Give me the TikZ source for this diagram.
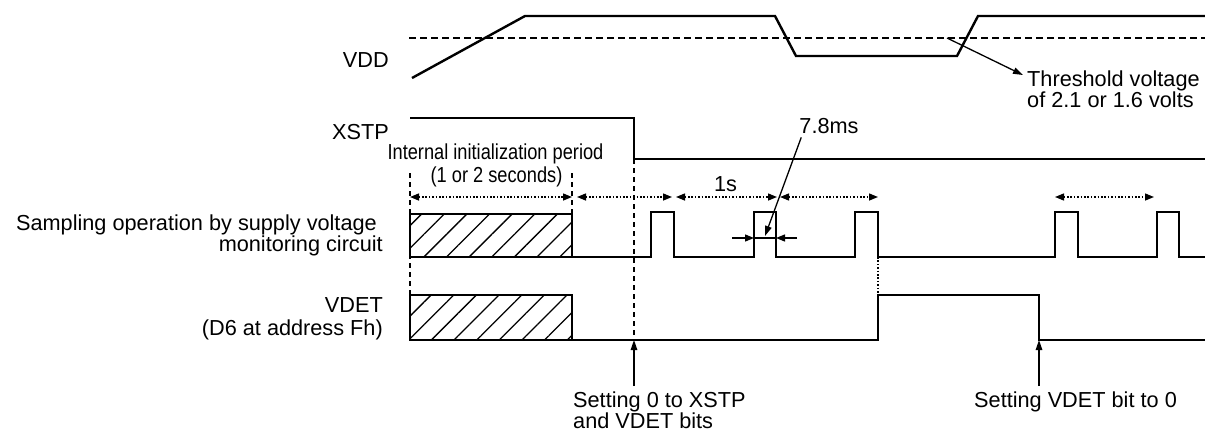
\documentclass[tikz,border=0pt]{standalone}
\usepackage{fontspec}
\setmainfont{Liberation Sans}
\usetikzlibrary{arrows.meta,patterns.meta}

\begin{document}
\begin{tikzpicture}[x=1pt,y=-1pt]
        \tikzstyle{main node}=[inner sep=0pt,font=\fontsize{21.7}{21}\selectfont]
        \tikzstyle{signal}=[line width=2.4pt,line join=miter]
        \tikzstyle{hatch}=[pattern={Lines[angle=45,distance=16pt,line width=1.3pt]}]
        \tikzstyle{period}=[line width=1.4pt,dash pattern=on 1.6pt off 1.8pt,arrows={Triangle[length=9pt,width=7pt]-Triangle[length=9pt,width=7pt]}]
        \tikzstyle{pointer}=[line width=1.3pt,-{Triangle[length=10pt,width=6.5pt]}]
        \tikzstyle{guide}=[line width=1.3pt,dash pattern=on 5pt off 4pt]
        \useasboundingbox (0,0) rectangle (1205,432);
        % signal names
        \node[main node,anchor=east] (VDD) at (389,60) {VDD};
        \node[main node,anchor=east] (XSTP) at (389,132) {XSTP};
        \node[main node,align=right,anchor=north east] (Sampling) at (383,215) {Sampling operation by supply voltage\hspace*{6pt}\\monitoring circuit};
        \node[main node,align=right,anchor=north east] (VDET) at (383,297) {VDET\\[2pt](D6 at address Fh)};
        % VDD
        \draw[line width=1.3pt,dash pattern=on 7pt off 4pt] (409,38) -- (1205,38);
        \draw[signal] (412,78) -- (525,16) -- (775,16) -- (796,56) -- (957,56) -- (978,16) -- (1205,16);
        \coordinate (Cross) at (947,38);
        \node[main node,align=left,anchor=north west] (Threshold) at (1027,71) {Threshold voltage\\of 2.1 or 1.6 volts};
        \draw[pointer] (Cross) -- ([xshift=-4pt,yshift=-4pt]Threshold.north west);
        % XSTP
        \draw[signal] (410,118) -- (634,118) -- (634,159) -- (1205,159);
        % sampling
        \fill[hatch] (410,214) rectangle (572,257);
        \draw[signal] (410,214) rectangle (572,257);
        \draw[signal] (572,257) -- (651,257) |- (674,212) |- (754,257) |- (776,212) |- (855,257) |- (878,212) |- (1055,257) |- (1078,212) |- (1157,257) |- (1179,212) |- (1205,257);
        % VDET
        \fill[hatch] (410,295) rectangle (572,340);
        \draw[signal] (410,295) rectangle (572,340);
        \draw[signal] (572,340) -- (878,340) |- (1039,295) |- (1205,340);
        % guides
        \draw[guide] (410,173) -- (410,295);
        \draw[guide] (572,173) -- (572,214);
        \coordinate (Fall) at (634,340);
        \coordinate (Clear) at (1039,340);
        \draw[guide] (634,159) -- (Fall);
        \draw[line width=1.3pt,dash pattern=on 1.6pt off 1.8pt] (878,257) -- (878,295);
        % periods
        \node[main node] (Init) at (495.5,154) {\scalebox{0.84}[1]{Internal initialization period}};
        \node[main node] (Seconds) at (496.5,176.5) {\scalebox{0.84}[1]{(1 or 2 seconds)}};
        \draw[period] (410,197) -- (572,197);
        \draw[period] (577,197) -- (672,197);
        \draw[period] (676,197) -- (777,197);
        \draw[period] (780,197) -- (878,197);
        \draw[period] (1055,197) -- (1154,197);
        \node[main node] (OneSec) at (725.5,184.5) {1s};
        % pulse width
        \node[main node] (Width) at (829,126.5) {7.8ms};
        \coordinate (WidthTip) at (765,236);
        \draw[pointer] ([xshift=2pt,yshift=-3pt]Width.south west) -- (WidthTip);
        \draw[line width=1.3pt] (754,238) -- (776,238);
        \draw[line width=1.3pt,-{Triangle[length=9pt,width=7pt]}] (732,238) -- (754,238);
        \draw[line width=1.3pt,-{Triangle[length=9pt,width=7pt]}] (797,238) -- (776,238);
        % bit settings
        \node[main node,align=left,anchor=north west] (SetBoth) at (573,392) {Setting 0 to XSTP\\and VDET bits};
        \node[main node,anchor=north west] (SetVDET) at (974,392) {Setting VDET bit to 0};
        \draw[pointer] ([yshift=6pt]SetBoth.north -| Fall) -- (Fall);
        \draw[pointer] ([yshift=6pt]SetVDET.north -| Clear) -- (Clear);
    \end{tikzpicture}
\end{document}
